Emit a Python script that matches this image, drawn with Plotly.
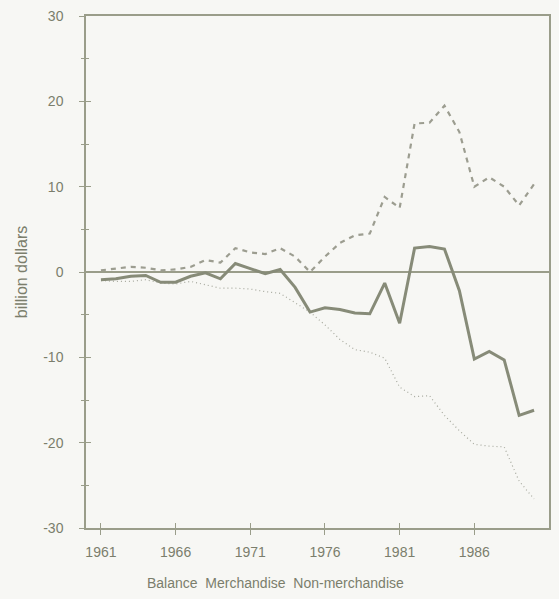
import plotly.graph_objects as go

years = list(range(1961, 1991))

balance = [-0.9, -0.8, -0.5, -0.4, -1.2, -1.2, -0.5, -0.1, -0.8, 1.0,
           0.4, -0.2, 0.3, -1.8, -4.7, -4.2, -4.4, -4.8, -4.9, -1.3,
           -6.0, 2.8, 3.0, 2.7, -2.2, -10.2, -9.3, -10.3, -16.8, -16.2]

merchandise = [0.2, 0.4, 0.6, 0.5, 0.2, 0.3, 0.6, 1.4, 1.1, 2.8,
               2.3, 2.1, 2.8, 1.8, 0.0, 1.8, 3.4, 4.3, 4.5, 8.8,
               7.5, 17.4, 17.5, 19.5, 16.4, 10.0, 11.1, 10.0, 7.8, 10.3]

non_merchandise = [-1.0, -1.1, -1.1, -0.9, -1.3, -1.4, -1.1, -1.5, -1.9, -1.9,
                   -2.0, -2.3, -2.5, -3.6, -4.7, -6.2, -7.9, -9.1, -9.4, -10.1,
                   -13.5, -14.6, -14.5, -16.8, -18.6, -20.2, -20.4, -20.5, -24.5, -26.6]

x_ticks = [1961, 1966, 1971, 1976, 1981, 1986]
y_ticks = [-30, -20, -10, 0, 10, 20, 30]
y_tick_text = ["-30", "-20", "-10", "0", "10", "20", "30"]

axis_col = "#9a9d8a"
text_col = "#7b7e6c"
font = "Liberation Sans, Arial, sans-serif"
bg = "#f7f7f4"

fig = go.Figure()
fig.add_trace(go.Scatter(x=years, y=non_merchandise, mode="lines", name="Non-merchandise",
                         line=dict(color="#a6a89d", width=1.2, dash="1px,3px")))
fig.add_trace(go.Scatter(x=years, y=merchandise, mode="lines", name="Merchandise",
                         line=dict(color="#9c9d90", width=2.2, dash="5px,5px")))
fig.add_trace(go.Scatter(x=years, y=balance, mode="lines", name="Balance",
                         line=dict(color="#878b78", width=3)))
# invisible trace that carries the inner tick marks of both axes
fig.add_trace(go.Scatter(x=[1961], y=[0], xaxis="x2", yaxis="y2", mode="markers",
                         marker=dict(opacity=0), showlegend=False, hoverinfo="skip"))

fig.update_layout(
    width=559, height=599,
    margin=dict(l=86, r=8, t=12, b=71),
    paper_bgcolor=bg, plot_bgcolor=bg,
    showlegend=False,
    font=dict(family=font, size=14, color=text_col),
    xaxis=dict(range=[1960, 1991], tickvals=x_ticks, ticks="outside", ticklen=5,
               tickcolor=axis_col, showline=True, linecolor=axis_col, linewidth=1.5,
               mirror=True, showgrid=False, zeroline=False, ticklabelstandoff=5),
    yaxis=dict(range=[-30, 30], tickvals=y_ticks, ticktext=y_tick_text,
               ticks="outside", ticklen=5,
               tickcolor=axis_col, showline=True, linecolor=axis_col, linewidth=1.5,
               mirror=True, showgrid=False, zeroline=True, zerolinecolor=axis_col,
               zerolinewidth=1.5, ticklabelstandoff=13,
               minor=dict(dtick=5, ticks="outside", ticklen=3, tickcolor=axis_col),
               title=dict(text="billion dollars", standoff=12,
                          font=dict(size=16, color=text_col))),
    xaxis2=dict(range=[1960, 1991], overlaying="x", side="bottom", tickvals=x_ticks,
                ticks="inside", ticklen=5, tickcolor=axis_col, showticklabels=False,
                showgrid=False, zeroline=False, showline=False),
    yaxis2=dict(range=[-30, 30], overlaying="y", side="left", tickvals=y_ticks,
                ticks="inside", ticklen=5, tickcolor=axis_col, showticklabels=False,
                showgrid=False, zeroline=False, showline=False,
                minor=dict(dtick=5, ticks="inside", ticklen=3, tickcolor=axis_col)),
)

fig.add_annotation(text="Balance  Merchandise  Non-merchandise", xref="paper", yref="paper",
                   x=0.41, y=-0.108, xanchor="center", yanchor="middle", showarrow=False,
                   font=dict(size=14, color=text_col))

fig.write_html("out.html")
